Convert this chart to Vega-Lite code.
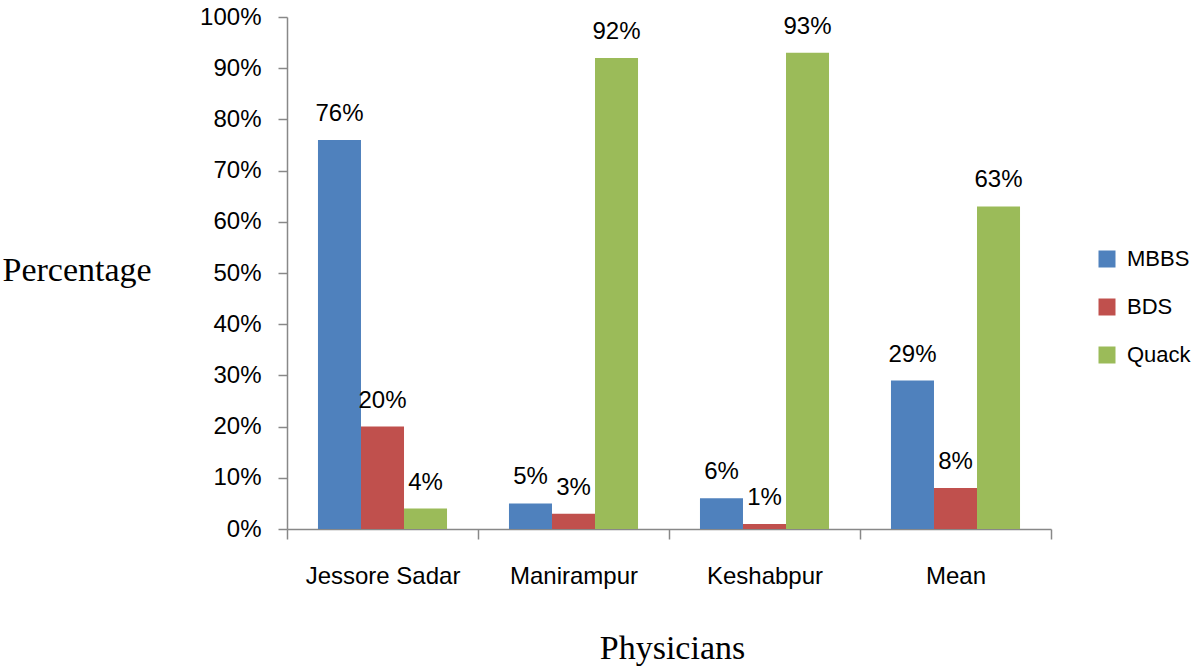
{
  "$schema": "https://vega.github.io/schema/vega-lite/v6.json",
  "width": 764,
  "height": 512,
  "autosize": {"type": "none"},
  "padding": {"left": 287, "top": 17, "right": 149, "bottom": 140},
  "background": "white",
  "config": {"view": {"stroke": null}, "font": "Liberation Sans"},
  "data": {"values": [
    {"area": "Jessore Sadar", "type": "MBBS", "pct": 0.76},
    {"area": "Jessore Sadar", "type": "BDS", "pct": 0.20},
    {"area": "Jessore Sadar", "type": "Quack", "pct": 0.04},
    {"area": "Manirampur", "type": "MBBS", "pct": 0.05},
    {"area": "Manirampur", "type": "BDS", "pct": 0.03},
    {"area": "Manirampur", "type": "Quack", "pct": 0.92},
    {"area": "Keshabpur", "type": "MBBS", "pct": 0.06},
    {"area": "Keshabpur", "type": "BDS", "pct": 0.01},
    {"area": "Keshabpur", "type": "Quack", "pct": 0.93},
    {"area": "Mean", "type": "MBBS", "pct": 0.29},
    {"area": "Mean", "type": "BDS", "pct": 0.08},
    {"area": "Mean", "type": "Quack", "pct": 0.63}
  ]},
  "encoding": {
    "x": {
      "field": "area", "type": "nominal",
      "sort": ["Jessore Sadar", "Manirampur", "Keshabpur", "Mean"],
      "scale": {"paddingInner": 0, "paddingOuter": 0},
      "axis": {
        "title": "Physicians",
        "titleFont": "Liberation Serif", "titleFontSize": 34, "titleFontWeight": "normal", "titleColor": "black",
        "titleX": 385, "titleY": 129, "titleBaseline": "alphabetic", "titleAlign": "center",
        "labelAngle": 0, "labelFontSize": 24, "labelColor": "black", "labelPadding": 25,
        "labelFont": "Liberation Sans",
        "tickBand": "extent", "tickSize": 10, "tickColor": "#888888", "tickWidth": 1.5,
        "domainColor": "#888888", "domainWidth": 1.5
      }
    },
    "xOffset": {
      "field": "type", "type": "nominal",
      "sort": ["MBBS", "BDS", "Quack"],
      "scale": {"paddingInner": 0, "paddingOuter": 0.72}
    },
    "y": {
      "field": "pct", "type": "quantitative",
      "scale": {"domain": [0, 1], "nice": false},
      "axis": {
        "title": "Percentage",
        "titleFont": "Liberation Serif", "titleFontSize": 34, "titleFontWeight": "normal", "titleColor": "black",
        "titleAngle": 0, "titleX": -285, "titleY": 253, "titleAlign": "left", "titleBaseline": "middle",
        "values": [0, 0.1, 0.2, 0.3, 0.4, 0.5, 0.6, 0.7, 0.8, 0.9, 1],
        "format": ".0%",
        "labelFontSize": 24, "labelColor": "black", "labelPadding": 17,
        "labelFont": "Liberation Sans",
        "grid": false, "tickSize": 9, "tickColor": "#888888", "tickWidth": 1.5,
        "domainColor": "#888888", "domainWidth": 1.5
      }
    }
  },
  "layer": [
    {
      "mark": {"type": "bar"},
      "encoding": {
        "color": {
          "field": "type", "type": "nominal",
          "sort": ["MBBS", "BDS", "Quack"],
          "scale": {"domain": ["MBBS", "BDS", "Quack"], "range": ["#4F81BD", "#C0504D", "#9BBB59"]},
          "legend": {
            "title": null, "orient": "none", "legendX": 809, "legendY": 231,
            "padding": 0, "symbolType": "square", "symbolSize": 289, "symbolStrokeWidth": 0,
            "labelFontSize": 22, "labelColor": "black", "labelFont": "Liberation Sans",
            "labelOffset": 9, "rowPadding": 26
          }
        }
      }
    },
    {
      "mark": {"type": "text", "baseline": "alphabetic", "dy": -19, "fontSize": 24, "color": "black", "font": "Liberation Sans"},
      "encoding": {
        "text": {"field": "pct", "type": "quantitative", "format": ".0%"}
      }
    }
  ]
}
